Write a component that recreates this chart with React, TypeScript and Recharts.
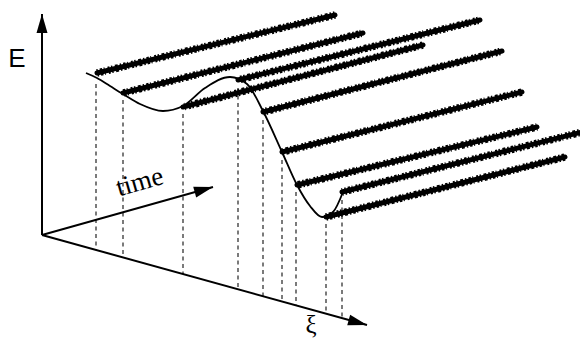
import React from "react";
import { LineChart, Line, XAxis, YAxis, ReferenceDot } from "recharts";

const W = 580;
const H = 338;

// Energy landscape E(ξ) as drawn on the sheet (x to the right, y downward)
const curveX = [86, 97, 110, 123, 140, 163, 183, 205, 230, 247, 263, 282, 297, 310, 322, 333, 343];
const curveY = [73, 78, 86, 94, 104, 111, 106, 88, 77, 84, 111, 152, 185, 206, 217, 212, 192];

// Noisy trajectories running along the time direction
const trajStartX = [97, 123, 183, 238, 263, 282, 297, 342, 326];
const trajStartY = [73, 93, 107, 80, 112, 152, 185, 192, 217];
const trajEndX = [335, 363, 423, 480, 502, 522, 537, 582, 565];
const trajEndY = [15, 33, 45, 20, 51, 92, 127, 132, 157];

// Projection drop lines onto the ξ axis
const dropX = [96, 123, 183, 238, 263, 282, 296, 326, 342];
const dropTop = [84, 100, 114, 88, 120, 160, 192, 224, 200];
const dropBottom = [250, 257, 274, 289, 296, 301, 305, 314, 318];

// Axes: shared origin and arrow tips
const originX = 42;
const originY = 235;
const axisNames = ["E", "time", "ξ"];
const axisTipX = [42, 213, 367];
const axisTipY = [14, 187, 325];

const curveData = curveX.map((x, i) => ({ x, y: curveY[i] }));
const trajData = trajStartX.map((x, i) => [
  { x, y: trajStartY[i] },
  { x: trajEndX[i], y: trajEndY[i] },
]);
const dropData = dropX.map((x, i) => [
  { x, y: dropTop[i] },
  { x, y: dropBottom[i] },
]);
const axisData = axisTipX.map((x, i) => [
  { x: originX, y: originY },
  { x, y: axisTipY[i] },
]);

const makeArrow = (i: number) => (props: any) => {
  const { cx, cy, index } = props;
  if (index !== 1) return <g key={`a${i}-${index}`} />;
  const dx = axisTipX[i] - originX;
  const dy = axisTipY[i] - originY;
  const ang = Math.atan2(dy, dx);
  const len = 19;
  const wid = 11;
  const bx = cx - len * Math.cos(ang);
  const by = cy - len * Math.sin(ang);
  const px = (-Math.sin(ang) * wid) / 2;
  const py = (Math.cos(ang) * wid) / 2;
  return (
    <polygon
      key={`a${i}-${index}`}
      points={`${cx},${cy} ${bx + px},${by + py} ${bx - px},${by - py}`}
      fill="#000"
      stroke="none"
    />
  );
};

export default function App() {
  return (
    <div style={{ position: "absolute", left: 0, top: 0, width: W, height: H, background: "#fff" }}>
      <LineChart width={W} height={H} margin={{ top: 0, right: 0, bottom: 0, left: 0 }}>
        <XAxis type="number" dataKey="x" domain={[0, W]} hide allowDataOverflow />
        <YAxis type="number" dataKey="y" domain={[0, H]} reversed hide allowDataOverflow />

        {dropData.map((d, i) => (
          <Line
            key={`drop${i}`}
            data={d}
            dataKey="y"
            stroke="#7a7a7a"
            strokeWidth={2}
            strokeDasharray="4 3.5"
            dot={false}
            activeDot={false}
            isAnimationActive={false}
          />
        ))}

        {axisData.map((d, i) => (
          <Line
            key={`axis${i}`}
            data={d}
            dataKey="y"
            stroke="#000"
            strokeWidth={2}
            dot={makeArrow(i)}
            activeDot={false}
            isAnimationActive={false}
          />
        ))}

        {trajData.map((d, i) => (
          <Line
            key={`traj${i}`}
            data={d}
            dataKey="y"
            stroke="#000"
            strokeWidth={5}
            strokeLinecap="round"
            dot={false}
            activeDot={false}
            isAnimationActive={false}
          />
        ))}
        {trajData.map((d, i) => (
          <Line
            key={`trajn${i}`}
            data={d}
            dataKey="y"
            stroke="#000"
            strokeWidth={7.5}
            strokeDasharray="1.5 2 2.5 1.5 1 3 2 1.5 1.5 2.5 3 2"
            strokeDashoffset={i * 3}
            dot={false}
            activeDot={false}
            isAnimationActive={false}
          />
        ))}

        <Line
          data={curveData}
          dataKey="y"
          type="monotone"
          stroke="#000"
          strokeWidth={1.8}
          dot={false}
          activeDot={false}
          isAnimationActive={false}
        />

        <ReferenceDot
          x={17}
          y={67}
          r={1}
          shape={(p: any) => (
            <text x={p.cx} y={p.cy} textAnchor="middle" fontFamily="Liberation Sans, Arial, sans-serif" fontSize={26} fill="#000">
              {axisNames[0]}
            </text>
          )}
        />
        <ReferenceDot
          x={142}
          y={190}
          r={1}
          shape={(p: any) => (
            <text
              x={p.cx}
              y={p.cy}
              textAnchor="middle"
              fontFamily="Liberation Serif, Times New Roman, serif"
              fontSize={27}
              fill="#000"
              transform={`rotate(-16 ${p.cx} ${p.cy})`}
            >
              {axisNames[1]}
            </text>
          )}
        />
        <ReferenceDot
          x={311}
          y={333}
          r={1}
          shape={(p: any) => (
            <text x={p.cx} y={p.cy} textAnchor="middle" fontFamily="Liberation Serif, Times New Roman, serif" fontSize={25} fill="#000">
              {axisNames[2]}
            </text>
          )}
        />
      </LineChart>
    </div>
  );
}
